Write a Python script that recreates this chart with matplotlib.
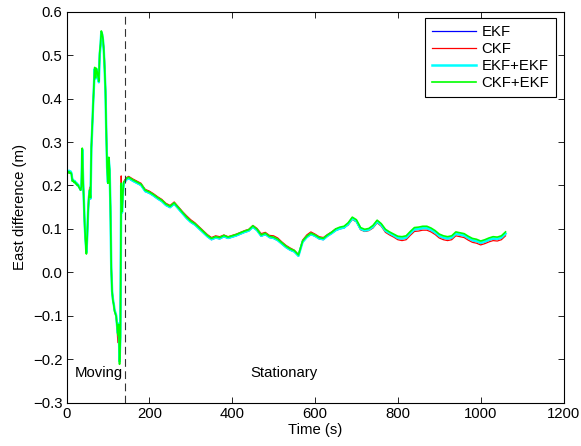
import numpy as np
import matplotlib
matplotlib.use("Agg")
import matplotlib.pyplot as plt

plt.rcParams['font.family'] = ['Liberation Sans', 'DejaVu Sans']
plt.rcParams['font.size'] = 10.7

# sample times: 2 s steps while moving, then 10 s steps while stationary
time_moving = np.arange(0, 141, 2)
time_stationary = np.concatenate(([145], np.arange(150, 1061, 10)))
time_s = np.concatenate((time_moving, time_stationary))

ckf_ekf = [0.228,0.231,0.229,0.232,0.228,0.230,0.226,0.210,0.212,0.207,0.209,0.204,0.205,0.200,0.201,0.196,0.193,0.189,0.198,0.286,0.210,0.160,0.105,0.070,0.042,0.085,0.140,0.175,0.190,0.172,0.290,0.335,0.385,0.430,0.472,0.448,0.470,0.462,0.452,0.440,0.505,0.525,0.556,0.550,0.538,0.512,0.470,0.420,0.320,0.240,0.205,0.265,0.235,0.150,0.010,-0.045,-0.065,-0.075,-0.090,-0.095,-0.102,-0.125,-0.145,-0.120,-0.212,-0.150,0.205,0.140,0.180,0.208,0.210,
           0.216,0.219,0.213,0.208,0.203,0.189,0.185,0.179,0.172,0.166,0.157,0.152,0.160,0.149,0.138,0.127,0.118,0.112,0.103,0.094,0.085,0.078,0.082,0.080,0.085,0.081,0.084,0.087,0.091,0.095,0.098,0.107,0.099,0.086,0.090,0.083,0.081,0.076,0.068,0.060,0.054,0.050,0.040,0.072,0.083,0.090,0.086,0.080,0.078,0.086,0.092,0.100,0.104,0.106,0.114,0.127,0.121,0.103,0.099,0.101,0.108,0.120,0.112,0.099,0.093,0.088,0.083,0.082,0.084,0.094,0.103,0.104,0.106,0.106,0.102,0.096,0.088,0.084,0.082,0.084,0.093,0.091,0.089,0.083,0.078,0.076,0.072,0.075,0.079,0.082,0.081,0.084,0.093]

ckf = [0.228,0.231,0.229,0.232,0.228,0.230,0.226,0.210,0.212,0.207,0.209,0.204,0.205,0.200,0.201,0.196,0.193,0.189,0.198,0.284,0.212,0.162,0.100,0.072,0.045,0.088,0.142,0.180,0.196,0.175,0.288,0.332,0.383,0.428,0.470,0.450,0.468,0.460,0.454,0.442,0.502,0.522,0.552,0.545,0.530,0.520,0.485,0.425,0.350,0.250,0.208,0.262,0.232,0.155,0.015,-0.040,-0.063,-0.073,-0.088,-0.097,-0.104,-0.130,-0.162,-0.128,-0.205,-0.140,0.222,0.145,0.178,0.206,0.212,
       0.218,0.221,0.215,0.210,0.205,0.191,0.187,0.181,0.174,0.168,0.159,0.154,0.162,0.151,0.140,0.130,0.121,0.114,0.105,0.096,0.087,0.080,0.084,0.082,0.086,0.082,0.085,0.088,0.092,0.096,0.099,0.108,0.101,0.089,0.092,0.085,0.084,0.079,0.070,0.062,0.056,0.051,0.041,0.074,0.086,0.093,0.088,0.082,0.080,0.087,0.093,0.100,0.102,0.103,0.109,0.122,0.116,0.098,0.094,0.096,0.102,0.114,0.106,0.092,0.086,0.081,0.075,0.073,0.075,0.085,0.094,0.095,0.097,0.097,0.093,0.087,0.079,0.075,0.073,0.075,0.084,0.082,0.080,0.074,0.069,0.067,0.063,0.066,0.070,0.073,0.072,0.075,0.084]

ekf_ekf = [0.231,0.233,0.231,0.234,0.230,0.232,0.228,0.212,0.213,0.208,0.210,0.205,0.206,0.201,0.202,0.197,0.194,0.190,0.200,0.283,0.214,0.163,0.108,0.073,0.046,0.083,0.138,0.172,0.188,0.170,0.286,0.330,0.382,0.426,0.468,0.446,0.468,0.459,0.450,0.438,0.500,0.521,0.553,0.548,0.535,0.510,0.468,0.418,0.322,0.243,0.207,0.260,0.237,0.152,0.012,-0.043,-0.062,-0.073,-0.087,-0.093,-0.100,-0.122,-0.140,-0.118,-0.205,-0.148,0.200,0.138,0.178,0.205,0.208,
           0.214,0.217,0.211,0.206,0.201,0.187,0.183,0.177,0.170,0.164,0.155,0.150,0.158,0.147,0.136,0.125,0.116,0.110,0.101,0.092,0.083,0.076,0.080,0.078,0.083,0.079,0.082,0.085,0.089,0.093,0.096,0.105,0.097,0.084,0.088,0.081,0.079,0.074,0.066,0.058,0.052,0.048,0.038,0.070,0.081,0.088,0.084,0.078,0.076,0.084,0.090,0.097,0.101,0.103,0.111,0.124,0.118,0.100,0.096,0.098,0.105,0.117,0.109,0.096,0.090,0.085,0.079,0.078,0.080,0.090,0.099,0.100,0.102,0.102,0.098,0.092,0.084,0.080,0.078,0.080,0.089,0.087,0.085,0.079,0.074,0.072,0.068,0.071,0.075,0.078,0.077,0.080,0.089]

ekf = [0.230,0.232,0.230,0.233,0.229,0.231,0.227,0.211,0.212,0.207,0.209,0.204,0.205,0.200,0.201,0.196,0.193,0.189,0.199,0.282,0.213,0.162,0.107,0.072,0.045,0.082,0.137,0.171,0.187,0.169,0.285,0.329,0.381,0.425,0.467,0.445,0.467,0.458,0.449,0.437,0.499,0.520,0.552,0.547,0.534,0.509,0.467,0.417,0.321,0.242,0.206,0.259,0.236,0.151,0.011,-0.044,-0.063,-0.074,-0.088,-0.094,-0.101,-0.123,-0.141,-0.119,-0.206,-0.149,0.199,0.137,0.177,0.204,0.207,
       0.213,0.216,0.210,0.205,0.200,0.186,0.182,0.176,0.169,0.163,0.154,0.149,0.157,0.146,0.135,0.124,0.115,0.109,0.100,0.091,0.082,0.075,0.079,0.077,0.082,0.078,0.081,0.084,0.088,0.092,0.095,0.104,0.096,0.083,0.087,0.080,0.078,0.073,0.065,0.057,0.051,0.047,0.037,0.069,0.080,0.087,0.083,0.077,0.075,0.083,0.089,0.096,0.100,0.102,0.110,0.123,0.117,0.099,0.095,0.097,0.104,0.116,0.108,0.095,0.089,0.084,0.078,0.077,0.079,0.089,0.098,0.099,0.101,0.101,0.097,0.091,0.083,0.079,0.077,0.079,0.088,0.086,0.084,0.078,0.073,0.071,0.067,0.070,0.074,0.077,0.076,0.079,0.088]

switch_time = 141
series_labels = ["EKF", "CKF", "EKF+EKF", "CKF+EKF"]
series_values = [ekf, ckf, ekf_ekf, ckf_ekf]
series_colors = ["#0000ff", "#ff0000", "#00ffff", "#00ff00"]
series_widths = [0.9, 0.9, 1.8, 1.2]

for v in series_values:
    assert len(v) == len(time_s), len(v)

fig = plt.figure(figsize=(5.81, 4.46), dpi=100)
ax = fig.add_axes([0.1145, 0.0975, 0.8554, 0.876])

for lab, vals, col, lw in zip(series_labels, series_values, series_colors, series_widths):
    ax.plot(time_s, vals, color=col, lw=lw, label=lab)

ax.axvline(switch_time, color="#333333", lw=0.8, ls=(0, (7, 4)))

ax.set_xlim(0, 1200)
ax.set_ylim(-0.3, 0.6)
ax.set_xticks(np.arange(0, 1201, 200))
ax.set_yticks(np.round(np.arange(-0.3, 0.61, 0.1), 1))
ax.tick_params(direction="in", top=True, right=True, length=4, width=0.6, pad=3)
for s in ax.spines.values():
    s.set_linewidth(0.8)

ax.set_xlabel("Time (s)", labelpad=2)
ax.set_ylabel("East difference (m)", labelpad=4)

ax.text(20, -0.231, "Moving", ha="left", va="center")
ax.text(443, -0.231, "Stationary", ha="left", va="center")

leg = ax.legend(loc="upper right", bbox_to_anchor=(0.985, 0.983), borderaxespad=0,
                fancybox=False, framealpha=1, edgecolor="black", handlelength=3.0,
                labelspacing=0.2, handletextpad=0.35, borderpad=0.45)
leg.get_frame().set_linewidth(0.8)

fig.savefig("out.png", dpi=100)
